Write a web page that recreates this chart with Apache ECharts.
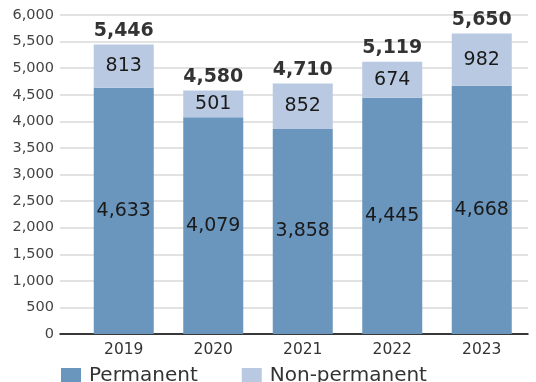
<!DOCTYPE html>
<html>
<head>
<meta charset="utf-8">
<script src="https://cdn.jsdelivr.net/npm/echarts@6/dist/echarts.min.js"></script>
<style>
html,body{margin:0;padding:0;background:#fff;}
#chart{width:536px;height:382px;}
</style>
</head>
<body>
<div id="chart"></div>
<script>
// Staff headcount by contract type
const years = ['2019', '2020', '2021', '2022', '2023'];
const permanent = [4633, 4079, 3858, 4445, 4668];
const nonPermanent = [813, 501, 852, 674, 982];
const totals = years.map((_, i) => permanent[i] + nonPermanent[i]);

const FONT = 'DejaVu Sans';
const fmt = v => Number(v).toLocaleString('en-US');

const chart = echarts.init(document.getElementById('chart'), null, {renderer: 'canvas'});
chart.setOption({
  animation: false,
  textStyle: {fontFamily: FONT},
  grid: [
    {left: 60, right: 8, top: 15, bottom: 48},
    {left: 79, right: 9.5, top: 15, bottom: 48}
  ],
  legend: {
    data: ['Permanent', 'Non-permanent'],
    left: 61, top: 366, padding: 0,
    itemWidth: 20, itemHeight: 16, itemGap: 44,
    icon: 'rect',
    textStyle: {fontFamily: FONT, fontSize: 20, color: '#333', padding: [3, 0, 0, 3]}
  },
  xAxis: [
    {
      type: 'category', gridIndex: 0, data: years,
      axisLine: {lineStyle: {color: '#000', width: 1.5}},
      axisTick: {show: false}, axisLabel: {show: false}
    },
    {
      type: 'category', gridIndex: 1, data: years,
      axisLine: {show: false}, axisTick: {show: false},
      axisLabel: {fontFamily: FONT, fontSize: 15.5, color: '#333', margin: 8}
    }
  ],
  yAxis: [
    {
      type: 'value', gridIndex: 0, min: 0, max: 6000, interval: 500,
      axisLine: {show: false}, axisTick: {show: false},
      axisLabel: {fontFamily: FONT, fontSize: 14.5, color: '#444', margin: 6, formatter: fmt},
      splitLine: {lineStyle: {color: '#d9d9d9', width: 1.5}}
    },
    {
      type: 'value', gridIndex: 1, min: 0, max: 6000, interval: 500,
      show: false, splitLine: {show: false}
    }
  ],
  series: [
    {
      name: 'Permanent', type: 'bar', stack: 'total',
      xAxisIndex: 1, yAxisIndex: 1,
      barWidth: 60, data: permanent,
      itemStyle: {color: '#6a96bd'},
      label: {show: true, position: 'inside', fontFamily: FONT, fontSize: 19, color: '#1a1a1a', formatter: p => fmt(p.value)}
    },
    {
      name: 'Non-permanent', type: 'bar', stack: 'total',
      xAxisIndex: 1, yAxisIndex: 1,
      barWidth: 60, data: nonPermanent,
      itemStyle: {color: '#b9c9e1'},
      label: {show: true, position: 'inside', fontFamily: FONT, fontSize: 19, color: '#1a1a1a', formatter: p => fmt(p.value)}
    },
    {
      name: 'Total', type: 'scatter',
      xAxisIndex: 1, yAxisIndex: 1,
      symbolSize: 0, data: totals,
      label: {show: true, position: 'top', distance: 4, fontFamily: FONT, fontSize: 19, fontWeight: 'bold', color: '#000', formatter: p => fmt(p.value)}
    }
  ]
});
</script>
</body>
</html>
